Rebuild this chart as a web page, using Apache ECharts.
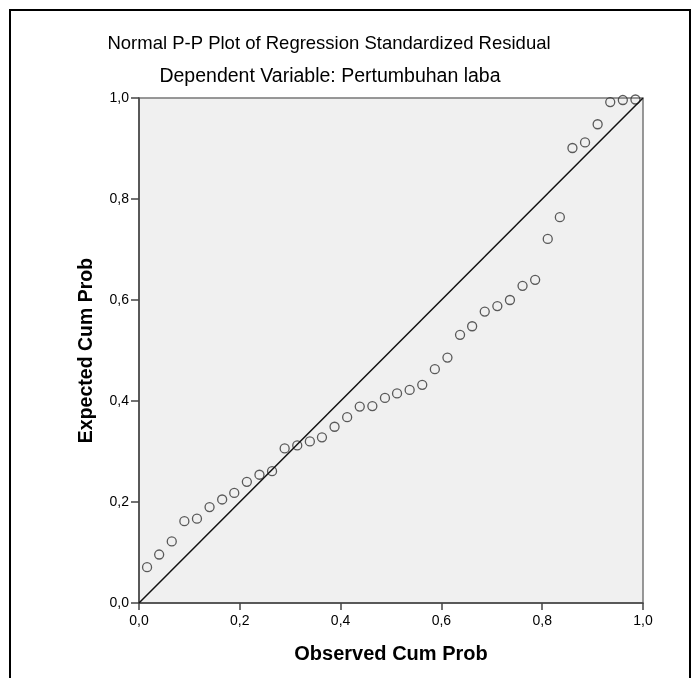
<!DOCTYPE html>
<html>
<head>
<meta charset="utf-8">
<script src="https://cdn.jsdelivr.net/npm/echarts@6/dist/echarts.min.js"></script>
<style>
html,body{margin:0;padding:0;background:#fff;}
#chart{width:699px;height:678px;}
</style>
</head>
<body>
<div id="chart"></div>
<script>
var titleText = 'Normal P-P Plot of Regression Standardized Residual';
var subtitleText = 'Dependent Variable: Pertumbuhan laba';
var xName = 'Observed Cum Prob';
var yName = 'Expected Cum Prob';

var observedCumProb = [0.016,0.040,0.065,0.090,0.115,0.140,0.165,0.189,0.214,0.239,
  0.264,0.289,0.314,0.339,0.363,0.388,0.413,0.438,0.463,0.488,
  0.512,0.537,0.562,0.587,0.612,0.637,0.661,0.686,0.711,0.736,
  0.761,0.786,0.811,0.835,0.860,0.885,0.910,0.935,0.960,0.985];
var expectedCumProb = [0.071,0.096,0.122,0.162,0.167,0.190,0.205,0.218,0.240,0.254,
  0.261,0.306,0.312,0.320,0.328,0.349,0.368,0.389,0.390,0.406,
  0.415,0.422,0.432,0.463,0.486,0.531,0.548,0.577,0.588,0.600,
  0.628,0.640,0.721,0.764,0.901,0.912,0.948,0.992,0.996,0.997];
var refLine = [[0,0],[1,1]];

var pts = observedCumProb.map(function(x,i){return [x, expectedCumProb[i]];});
var fmt = function(v){return v.toFixed(1).replace('.', ',');};
var FONT = '"Liberation Sans", Arial, sans-serif';

var chart = echarts.init(document.getElementById('chart'));
chart.setOption({
  animation:false,
  backgroundColor:'#fff',
  title:[
    {text:titleText,left:324,top:29,textAlign:'center',
     textStyle:{fontFamily:FONT,fontSize:18.5,fontWeight:'normal',color:'#000'}},
    {text:subtitleText,left:325,top:62,textAlign:'center',
     textStyle:{fontFamily:FONT,fontSize:19.5,fontWeight:'normal',color:'#000'}}
  ],
  graphic:[
    {type:'rect',shape:{x:10,y:10,width:680,height:700},
     style:{fill:'none',stroke:'#000',lineWidth:2},silent:true}
  ],
  grid:{left:139,top:98,width:504,height:505,show:true,backgroundColor:'#f0f0f0',
        borderColor:'#777',borderWidth:1.5},
  xAxis:{type:'value',min:0,max:1,interval:0.2,
    name:xName,nameLocation:'middle',nameGap:41,
    nameTextStyle:{fontFamily:FONT,fontSize:20,fontWeight:'bold',color:'#000'},
    axisLine:{show:true,lineStyle:{color:'#444',width:1.5}},
    axisTick:{show:true,length:7,lineStyle:{color:'#444',width:1.5}},
    axisLabel:{formatter:fmt,fontFamily:FONT,fontSize:14,color:'#000',margin:11},
    splitLine:{show:false}},
  yAxis:{type:'value',min:0,max:1,interval:0.2,
    name:yName,nameLocation:'middle',nameGap:42,nameRotate:90,
    nameTextStyle:{fontFamily:FONT,fontSize:19.5,fontWeight:'bold',color:'#000'},
    axisLine:{show:true,lineStyle:{color:'#444',width:1.5}},
    axisTick:{show:true,length:8,lineStyle:{color:'#444',width:1.5}},
    axisLabel:{formatter:fmt,fontFamily:FONT,fontSize:14,color:'#000',margin:10},
    splitLine:{show:false}},
  series:[
    {type:'line',data:refLine,symbol:'none',lineStyle:{color:'#111',width:1.5},silent:true},
    {type:'scatter',data:pts,symbol:'circle',symbolSize:9,
     itemStyle:{color:'rgba(0,0,0,0)',borderColor:'#333',borderWidth:1.3}}
  ]
});
</script>
</body>
</html>
